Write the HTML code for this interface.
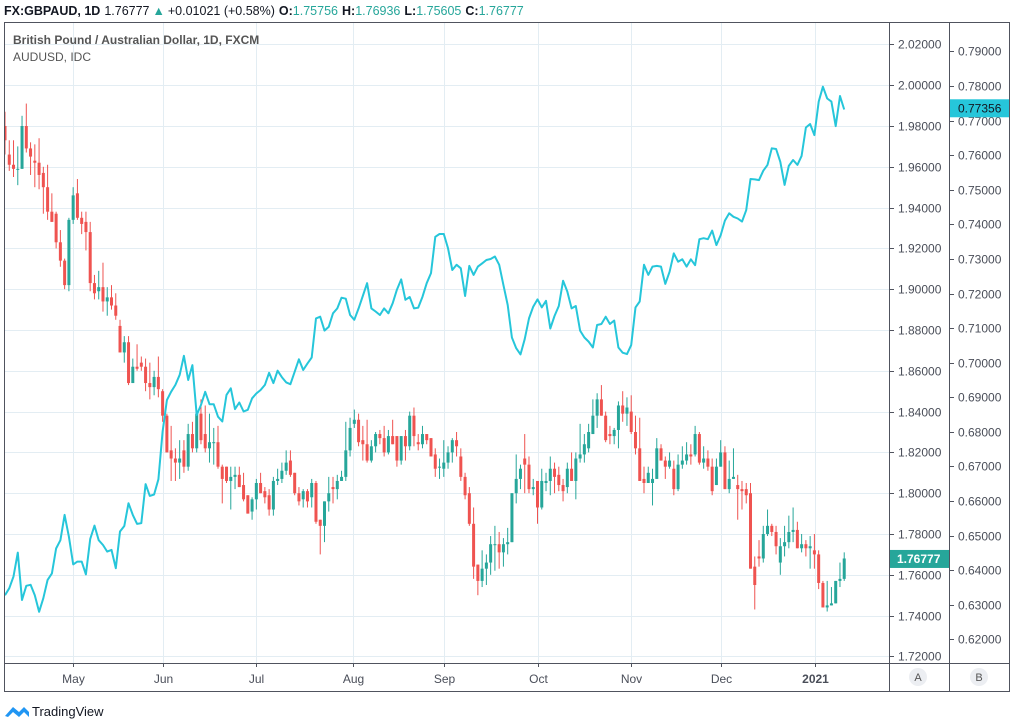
<!DOCTYPE html>
<html><head><meta charset="utf-8"><style>
html,body{margin:0;padding:0;background:#fff;width:1011px;height:727px;overflow:hidden;font-family:"Liberation Sans",sans-serif;}
svg{display:block}
</style></head><body>
<svg id="chart" width="1011" height="727" viewBox="0 0 1011 727" xmlns="http://www.w3.org/2000/svg">
<rect x="0" y="0" width="1011" height="727" fill="#fff"/>
<text x="4" y="15" font-size="12.5" fill="#131722"><tspan font-weight="bold">FX:GBPAUD, 1D</tspan><tspan dx="4">1.76777</tspan><tspan fill="#26a69a" dx="3">▲</tspan><tspan dx="3">+0.01021 (+0.58%)</tspan><tspan dx="4" font-weight="bold">O:</tspan><tspan fill="#26a69a">1.75756</tspan><tspan dx="4" font-weight="bold">H:</tspan><tspan fill="#26a69a">1.76936</tspan><tspan dx="4" font-weight="bold">L:</tspan><tspan fill="#26a69a">1.75605</tspan><tspan dx="4" font-weight="bold">C:</tspan><tspan fill="#26a69a">1.76777</tspan></text>
<g id="grid"></g>
<g id="plot" clip-path="url(#clip)"></g>
<defs><clipPath id="clip"><rect x="5" y="22" width="884" height="641"/></clipPath></defs>
<g id="frame" stroke="#50535e" stroke-width="1" fill="none">
<line x1="4.5" y1="22" x2="4.5" y2="692"/>
<line x1="4" y1="22.5" x2="1010" y2="22.5"/>
<line x1="4" y1="663.5" x2="1010" y2="663.5"/>
<line x1="4" y1="691.5" x2="1010" y2="691.5"/>
<line x1="889.5" y1="22" x2="889.5" y2="692"/>
<line x1="949.5" y1="22" x2="949.5" y2="692"/>
<line x1="1009.5" y1="22" x2="1009.5" y2="692"/>
</g>
<g id="axes"></g>
<text x="13" y="44" font-size="12" font-weight="bold" fill="#555">British Pound / Australian Dollar, 1D, FXCM</text>
<text x="13" y="61" font-size="12" fill="#555">AUDUSD, IDC</text>
<circle cx="918" cy="677" r="9" fill="#eceef2"/>
<text x="918" y="681" font-size="11" text-anchor="middle" fill="#555">A</text>
<circle cx="979" cy="677" r="9" fill="#eceef2"/>
<text x="979" y="681" font-size="11" text-anchor="middle" fill="#555">B</text>
<g>
<path d="M5 716 L13 707 L19 712 L24 707 L29 712 L29 717 L24 712 L19 717 L13 712 L8 717 Z" fill="#2196f3"/>
<text x="32" y="716" font-size="13" fill="#131722">TradingView</text>
</g>
</svg>
<script>
const gOpen=[1.980,1.966,1.961,1.959,1.959,1.980,1.969,1.963,1.962,1.957,1.950,1.938,1.937,1.923,1.914,1.902,1.934,1.947,1.935,1.933,1.928,1.903,1.899,1.901,1.894,1.896,1.892,1.882,1.869,1.874,1.854,1.862,1.864,1.862,1.854,1.852,1.857,1.850,1.838,1.821,1.817,1.815,1.821,1.813,1.829,1.822,1.839,1.829,1.822,1.825,1.825,1.813,1.813,1.806,1.808,1.809,1.804,1.799,1.791,1.797,1.805,1.801,1.799,1.792,1.806,1.807,1.811,1.816,1.810,1.800,
1.797,1.801,1.798,1.805,1.787,1.784,1.796,1.803,1.802,1.806,1.808,1.821,1.834,1.836,1.826,1.824,1.816,1.823,1.829,1.827,1.820,1.828,1.828,1.816,1.828,1.823,1.838,1.825,1.824,1.829,1.827,1.819,1.813,1.812,1.815,1.820,1.826,1.818,1.808,1.800,1.785,1.765,1.757,1.763,1.766,1.775,1.775,1.771,1.775,1.776,1.800,1.807,1.817,1.814,1.802,1.806,1.793,1.805,1.806,1.812,1.809,1.804,1.803,1.812,1.806,1.817,1.819,1.822,
1.829,1.838,1.846,1.838,1.829,1.828,1.831,1.843,1.839,1.840,1.830,1.822,1.807,1.805,1.805,1.807,1.822,1.816,1.813,1.812,1.802,1.814,1.816,1.819,1.819,1.829,1.815,1.817,1.813,1.804,1.813,1.820,1.802,1.807,1.804,1.802,1.802,1.800,1.764,1.769,1.768,1.780,1.784,1.781,1.766,1.774,1.776,1.781,1.782,1.773,1.775,1.773,1.772,1.770,1.756,1.744,1.745,1.746,1.757,1.758];
const gHigh=[1.987,1.973,1.973,1.970,1.985,1.991,1.972,1.971,1.974,1.960,1.961,1.947,1.938,1.929,1.915,1.935,1.950,1.954,1.938,1.938,1.933,1.907,1.909,1.913,1.901,1.902,1.898,1.885,1.877,1.877,1.866,1.873,1.867,1.866,1.864,1.860,1.867,1.851,1.839,1.833,1.822,1.826,1.826,1.834,1.835,1.840,1.846,1.843,1.839,1.832,1.833,1.814,1.813,1.813,1.813,1.813,1.810,1.799,1.798,1.807,1.810,1.803,1.802,1.808,1.812,1.815,1.821,1.821,1.810,1.803,
1.802,1.802,1.807,1.806,1.787,1.796,1.808,1.808,1.809,1.811,1.835,1.837,1.841,1.839,1.833,1.836,1.826,1.830,1.831,1.833,1.831,1.836,1.828,1.828,1.831,1.840,1.842,1.829,1.833,1.829,1.827,1.822,1.817,1.826,1.823,1.827,1.830,1.822,1.810,1.803,1.793,1.765,1.772,1.770,1.779,1.784,1.781,1.778,1.783,1.800,1.819,1.814,1.829,1.818,1.807,1.806,1.812,1.810,1.818,1.815,1.813,1.807,1.815,1.820,1.820,1.834,1.829,1.834,
1.846,1.849,1.853,1.840,1.833,1.832,1.845,1.850,1.847,1.848,1.838,1.837,1.813,1.813,1.812,1.827,1.824,1.818,1.820,1.816,1.819,1.823,1.825,1.824,1.833,1.830,1.823,1.821,1.817,1.817,1.826,1.823,1.816,1.822,1.809,1.806,1.805,1.805,1.769,1.777,1.784,1.792,1.785,1.784,1.778,1.784,1.789,1.793,1.786,1.780,1.777,1.779,1.780,1.772,1.757,1.757,1.754,1.757,1.766,1.771];
const gLow=[1.966,1.958,1.955,1.951,1.959,1.967,1.956,1.950,1.949,1.937,1.934,1.933,1.920,1.911,1.900,1.899,1.932,1.934,1.927,1.919,1.899,1.895,1.895,1.889,1.887,1.890,1.885,1.869,1.864,1.853,1.854,1.860,1.860,1.850,1.846,1.848,1.847,1.835,1.820,1.806,1.806,1.807,1.810,1.811,1.820,1.820,1.824,1.820,1.815,1.814,1.812,1.795,1.805,1.792,1.802,1.803,1.796,1.790,1.787,1.792,1.800,1.795,1.789,1.789,1.804,1.805,1.809,1.808,1.799,1.794,
1.793,1.793,1.793,1.785,1.770,1.776,1.791,1.795,1.797,1.806,1.806,1.818,1.832,1.823,1.816,1.815,1.815,1.820,1.824,1.818,1.819,1.824,1.813,1.814,1.816,1.821,1.823,1.821,1.822,1.824,1.818,1.808,1.807,1.808,1.812,1.815,1.818,1.806,1.797,1.784,1.758,1.750,1.754,1.755,1.760,1.762,1.763,1.764,1.770,1.776,1.795,1.802,1.800,1.800,1.799,1.785,1.792,1.801,1.799,1.800,1.801,1.796,1.800,1.806,1.797,1.815,1.815,1.820,
1.829,1.832,1.838,1.825,1.824,1.824,1.822,1.835,1.833,1.829,1.819,1.806,1.800,1.805,1.794,1.807,1.816,1.807,1.812,1.799,1.801,1.812,1.814,1.814,1.818,1.814,1.812,1.811,1.799,1.804,1.813,1.802,1.800,1.807,1.787,1.792,1.795,1.763,1.743,1.764,1.766,1.779,1.779,1.770,1.760,1.769,1.773,1.776,1.773,1.771,1.769,1.763,1.763,1.753,1.744,1.742,1.745,1.746,1.754,1.757];
const gClose=[1.973,1.961,1.959,1.959,1.980,1.969,1.965,1.962,1.956,1.950,1.938,1.933,1.923,1.914,1.902,1.934,1.946,1.935,1.932,1.928,1.903,1.898,1.901,1.894,1.896,1.892,1.887,1.869,1.874,1.854,1.862,1.861,1.862,1.854,1.852,1.857,1.851,1.838,1.820,1.817,1.815,1.817,1.813,1.829,1.822,1.839,1.826,1.822,1.825,1.825,1.813,1.807,1.806,1.808,1.809,1.803,1.797,1.790,1.797,1.805,1.800,1.798,1.792,1.806,1.807,1.811,1.815,1.809,1.800,1.796,
1.801,1.796,1.805,1.786,1.784,1.796,1.800,1.802,1.806,1.808,1.821,1.832,1.836,1.825,1.824,1.816,1.823,1.829,1.827,1.820,1.828,1.824,1.816,1.828,1.823,1.838,1.828,1.824,1.829,1.826,1.818,1.812,1.813,1.815,1.820,1.826,1.823,1.808,1.799,1.785,1.764,1.757,1.763,1.766,1.775,1.775,1.771,1.775,1.776,1.800,1.807,1.812,1.814,1.802,1.803,1.793,1.806,1.806,1.812,1.808,1.804,1.801,1.812,1.806,1.817,1.819,1.824,1.830,
1.838,1.846,1.838,1.826,1.828,1.831,1.843,1.839,1.842,1.830,1.822,1.806,1.805,1.810,1.807,1.822,1.816,1.813,1.816,1.802,1.814,1.816,1.819,1.818,1.829,1.815,1.817,1.813,1.801,1.813,1.820,1.802,1.807,1.808,1.802,1.801,1.799,1.763,1.755,1.768,1.780,1.784,1.781,1.774,1.774,1.776,1.781,1.782,1.773,1.775,1.773,1.774,1.770,1.756,1.744,1.745,1.746,1.757,1.758,1.768];
const audusd=[.6328,.6348,.6382,.6451,.6314,.6355,.6358,.6328,.6280,.6319,.6372,.6391,.6463,.6487,.6560,.6497,.6417,.6425,.6425,.6388,.6490,.6529,.6487,.6473,.6454,.6459,.6406,.6512,.6528,.6594,.6560,.6534,.6536,.6649,.6615,.6619,.6663,.6801,.6892,.6916,.6936,.6965,.7020,.6950,.6993,.6849,.6878,.6916,.6880,.6880,.6844,.6830,.6907,.6926,.6866,.6885,.6859,.6864,.6897,.6911,.6921,.6936,.6971,.6941,.6977,.6958,.6943,.6938,.6974,.7010,
.6979,.6998,.7015,.7128,.7133,.7093,.7104,.7143,.7157,.7188,.7185,.7138,.7124,.7157,.7193,.7230,.7157,.7148,.7138,.7157,.7143,.7172,.7211,.7241,.7182,.7190,.7157,.7159,.7191,.7230,.7259,.7364,.7372,.7372,.7331,.7268,.7283,.7273,.7193,.7280,.7254,.7278,.7287,.7297,.7300,.7307,.7283,.7225,.7167,.7073,.7042,.7024,.7068,.7128,.7162,.7183,.7160,.7179,.7099,.7135,.7164,.7237,.7206,.7157,.7164,.7093,.7073,.7061,.7044,.7109,
.7112,.7133,.7112,.7122,.7044,.7029,.7025,.7051,.7160,.7177,.7283,.7254,.7278,.7280,.7278,.7228,.7263,.7316,.7292,.7299,.7278,.7299,.7282,.7357,.7360,.7357,.7382,.7340,.7369,.7411,.7432,.7422,.7417,.7408,.7441,.7531,.7530,.7528,.7555,.7572,.7620,.7618,.7581,.7514,.7569,.7586,.7572,.7598,.7680,.7690,.7658,.7755,.7798,.7764,.7755,.7684,.7771,.7732];
const gTicks=[1.72,1.74,1.76,1.78,1.80,1.82,1.84,1.86,1.88,1.90,1.92,1.94,1.96,1.98,2.00,2.02];
const aTicks=[0.62,0.63,0.64,0.65,0.66,0.67,0.68,0.69,0.70,0.71,0.72,0.73,0.74,0.75,0.76,0.77,0.78,0.79];
const monthLabels=["May","Jun","Jul","Aug","Sep","Oct","Nov","Dec","2021"];
const monthIndex=[16.0,37.2,59.0,81.7,103.0,125.1,146.9,168.0,190.1];
const lastG=1.76777, lastA=0.77356;

const NS="http://www.w3.org/2000/svg";
function xOf(i){return 5+i*4.26;}
function yG(p){return 126+(1.98-p)*2040;}
function yA(v){return 86+(0.78-v)*3459;}
function mk(tag,attrs,parent){const e=document.createElementNS(NS,tag);for(const k in attrs)e.setAttribute(k,attrs[k]);parent.appendChild(e);return e;}
const grid=document.getElementById('grid'),plot=document.getElementById('plot'),axes=document.getElementById('axes');

gTicks.forEach(t=>{const y=Math.round(yG(t))+0.5;
 const gl=mk('line',{x1:5,x2:889,y1:y,y2:y,stroke:'#e3edf3','stroke-width':1},grid);
 
 
 if(y>24&&y<662){
 const tk=mk('line',{x1:889,x2:894,y1:y,y2:y,stroke:'#50535e'},axes);
 
 
 const tx=mk('text',{x:898,y:y+4,'font-size':12,fill:'#4a4e59'},axes);
 tx.textContent=t.toFixed(5);
 
 }
});
aTicks.forEach(t=>{const y=Math.round(yA(t))+0.5;
 if(y>24&&y<662){
 const tk=mk('line',{x1:949,x2:954,y1:y,y2:y,stroke:'#50535e'},axes);
 
 
 const tx=mk('text',{x:958,y:y+4,'font-size':12,fill:'#4a4e59'},axes);
 tx.textContent=t.toFixed(5);
 
 }
});
monthLabels.forEach((m,k)=>{const x=Math.round(xOf(monthIndex[k]))+0.5;
 const gl=mk('line',{x1:x,x2:x,y1:23,y2:663,stroke:'#e3edf3'},grid);
 
 
 const tk=mk('line',{x1:x,x2:x,y1:663,y2:667,stroke:'#50535e'},axes);
 
 
 const tx=mk('text',{x:x,y:683,'font-size':12,fill:'#4a4e59','text-anchor':'middle','font-weight':m==='2021'?'bold':'normal'},axes);
 tx.textContent=m;
 
 
});

for(let i=0;i<gClose.length;i++){
 const up=gClose[i]>=gOpen[i];const col=up?'#26a69a':'#ef5350';
 const x=xOf(i);
 const g=mk('g',{},plot);
 
 
 const w=mk('line',{x1:x,x2:x,y1:yG(gHigh[i]),y2:yG(gLow[i]),stroke:col,'stroke-width':1},g);
 
 
 const t=yG(Math.max(gOpen[i],gClose[i])),b=yG(Math.min(gOpen[i],gClose[i]));
 const r=mk('rect',{x:x-1.5,y:t,width:3,height:Math.max(1,b-t),fill:col},g);
 
 
}
const pts=audusd.map((v,i)=>xOf(i).toFixed(1)+','+yA(v).toFixed(1)).join(' ');
const pl=mk('polyline',{points:pts,fill:'none',stroke:'#26c6da','stroke-width':2,'stroke-linejoin':'round'},plot);



const yg=yG(lastG);
const bg=mk('rect',{x:890,y:yg-9,width:59,height:18,fill:'#26a69a'},axes);


const bgt=mk('text',{x:897,y:yg+4,'font-size':12,'font-weight':'bold',fill:'#fff'},axes);
bgt.textContent=lastG.toFixed(5);


const ya=yA(lastA);
const ba=mk('rect',{x:950,y:ya-9,width:59,height:18,fill:'#26c6da'},axes);


const bat=mk('text',{x:958,y:ya+4,'font-size':12,fill:'#131722'},axes);
bat.textContent=lastA.toFixed(5);


</script>
</body></html>
